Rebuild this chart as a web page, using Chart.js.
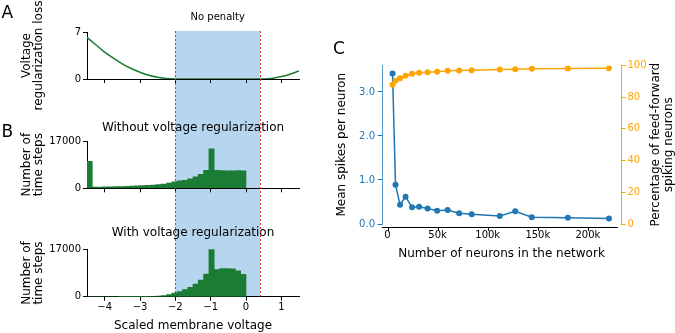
<!DOCTYPE html>
<html lang="en">
<head>
<meta charset="UTF-8">
<title>Voltage regularization</title>
<script src="https://cdn.jsdelivr.net/npm/chart.js"></script>
<style>
  body { margin: 0; background: #fff; }
  #fig { position: relative; width: 675px; height: 333px; }
  #fig canvas { position: absolute; left: 0; top: 0; }
</style>
</head>
<body>
<div id="fig">
  <canvas id="histWith" width="675" height="333"></canvas>
  <canvas id="histWithout" width="675" height="333"></canvas>
  <canvas id="loss" width="675" height="333"></canvas>
  <canvas id="scaling" width="675" height="333"></canvas>
</div>
<script>
// ---- data ----
const noPenaltyRange = [-2, 0.4];
const voltageTicks = [-4, -3, -2, -1, 0, 1];
const lossTicks = [0, 7];
const countTicks = [0, 17000];
const sizeTicks = [0, 50000, 100000, 150000, 200000];
const spikeTicks = [0, 1, 2, 3];
const pctTicks = [0, 20, 40, 60, 80, 100];

// A: regularization loss vs scaled voltage
const lossVoltage = [-4.5, -4.25, -4, -3.75, -3.5, -3.25, -3, -2.75, -2.5, -2.25, -2, 0.4, 0.6, 0.8, 1.0, 1.2, 1.5];
const lossValue   = [6.2, 5.1, 4.0, 3.1, 2.25, 1.55, 1.0, 0.56, 0.25, 0.06, 0, 0, 0.04, 0.16, 0.36, 0.64, 1.2];

// B: histogram bins (width 0.15)
const binCenters = [-4.425, -4.275, -4.125, -3.975, -3.825, -3.675, -3.525, -3.375, -3.225, -3.075,
                    -2.925, -2.775, -2.625, -2.475, -2.325, -2.175, -2.025, -1.875, -1.725, -1.575,
                    -1.425, -1.275, -1.125, -0.975, -0.825, -0.675, -0.525, -0.375, -0.225, -0.075];
const countsWithout = [9700, 450, 480, 520, 560, 610, 660, 720, 790, 870,
                       960, 1060, 1180, 1320, 1550, 1900, 2300, 2650, 2900, 3400,
                       4100, 5000, 6500, 14200, 6500, 6400, 6300, 6300, 6400, 6300];
const countsWith = [0, 0, 0, 0, 0, 0, 5, 10, 15, 25,
                    40, 70, 120, 220, 420, 800, 1300, 1900, 2550, 3350,
                    4550, 6000, 8100, 17000, 9700, 10100, 10100, 10000, 9300, 8000];

// C: scaling with network size
const networkSize = [5000, 8000, 12500, 18000, 24500, 31500, 40000, 49500, 60000, 71500, 84000, 112000, 127500, 144000, 180000, 221000];
const meanSpikes  = [3.42, 0.89, 0.44, 0.62, 0.38, 0.39, 0.35, 0.30, 0.32, 0.245, 0.22, 0.18, 0.29, 0.155, 0.14, 0.125];
const pctSpiking  = [87.8, 90.3, 92.0, 93.5, 94.8, 95.4, 95.8, 96.0, 96.7, 96.8, 97.0, 97.5, 97.7, 97.9, 98.1, 98.3];

// ---- style ----
const GREEN = '#1b7c34';
const SPAN_COLOR = '#b6d6ef';
const BLUE = '#1f77b4';
const ORANGE = '#ffa500';
const FONT = "'DejaVu Sans', sans-serif";
const LEFT_AXIS_W = 87;     // y axis box width of the left column
const RIGHT_PAD = 376;      // space right of the left column
const SPAN_TOP = 31;

Chart.defaults.font.family = FONT;
Chart.defaults.font.size = 10;
Chart.defaults.color = '#000';
Chart.defaults.animation = false;
Chart.defaults.responsive = false;
Chart.defaults.plugins.legend.display = false;
Chart.defaults.plugins.tooltip.enabled = false;

const pts = (xs, ys) => xs.map((x, i) => ({ x: x, y: ys[i] }));
const minus = v => v < 0 ? '\u2212' + Math.abs(v) : String(v);
const fixTicks = values => s => { s.ticks = values.map(v => ({ value: v })); };

function countAxis(max, tickValues, lines) {
    return {
        min: 0, max: max,
        afterFit: s => { s.width = LEFT_AXIS_W; },
        afterBuildTicks: fixTicks(tickValues),
        ticks: { padding: 2, callback: v => String(v) },
        grid: { drawOnChartArea: false, tickLength: 4, color: '#000' },
        border: { color: '#000' },
        title: { display: true, text: lines, font: { size: 12, lineHeight: 1 }, padding: { top: 21, bottom: 0 } }
    };
}

function voltageAxis(labels, height) {
    return {
        type: 'linear', min: -4.5, max: 1.5, offset: false,
        afterFit: s => { s.height = height; },
        afterBuildTicks: fixTicks(voltageTicks),
        ticks: { padding: 1, maxRotation: 0, autoSkip: false,
                 callback: v => labels ? minus(v) : '' },
        grid: { drawOnChartArea: false, tickLength: 4, color: '#000', offset: false },
        border: { color: '#000' },
        title: { display: labels, text: 'Scaled membrane voltage', font: { size: 12 }, padding: 0 }
    };
}

function histOptions(title, titleTop, titleGap, xHeight, padBottom, labels) {
    return {
        layout: { padding: { left: 0, right: RIGHT_PAD, top: titleTop, bottom: padBottom } },
        plugins: {
            title: { display: true, text: title, fullSize: false, color: '#000',
                     font: { size: 12, weight: 'normal', lineHeight: 1.2 },
                     padding: { top: 0, bottom: titleGap } }
        },
        scales: {
            x: voltageAxis(labels, xHeight),
            y: countAxis(17000, countTicks, ['Number of', 'time steps'])
        }
    };
}

// shaded "no penalty" band, behind everything (bottom canvas)
const spanPlugin = {
    id: 'span',
    beforeDraw(chart) {
        const ctx = chart.ctx, x = chart.scales.x;
        const l = x.getPixelForValue(noPenaltyRange[0]);
        const r = x.getPixelForValue(noPenaltyRange[1]);
        ctx.save();
        ctx.fillStyle = SPAN_COLOR;
        ctx.fillRect(l, SPAN_TOP, r - l, chart.chartArea.bottom - SPAN_TOP);
        ctx.restore();
    }
};

const histWith = new Chart(document.getElementById('histWith'), {
    type: 'bar',
    data: { datasets: [{ data: pts(binCenters, countsWith), backgroundColor: GREEN, borderWidth: 0,
                         barPercentage: 1, categoryPercentage: 1 }] },
    options: histOptions('With voltage regularization', 225.2, 9.7, 36.2, 0, true),
    plugins: [spanPlugin]
});

new Chart(document.getElementById('histWithout'), {
    type: 'bar',
    data: { datasets: [{ data: pts(binCenters, countsWithout), backgroundColor: GREEN, borderWidth: 0,
                         barPercentage: 1, categoryPercentage: 1 }] },
    options: histOptions('Without voltage regularization', 120.2, 6.4, 8, 136.7, false)
});

// dotted bounds + label, on top of the left column
const boundsPlugin = {
    id: 'bounds',
    afterDraw(chart) {
        const ctx = chart.ctx, x = chart.scales.x;
        const bottom = histWith.chartArea.bottom;
        ctx.save();
        ctx.strokeStyle = 'rgba(225,30,30,0.9)';
        ctx.lineWidth = 1;
        ctx.setLineDash([2, 2]);
        noPenaltyRange.forEach(v => {
            const px = Math.round(x.getPixelForValue(v)) + 0.5;
            ctx.beginPath();
            ctx.moveTo(px, SPAN_TOP);
            ctx.lineTo(px, bottom);
            ctx.stroke();
        });
        ctx.setLineDash([]);
        ctx.fillStyle = '#000';
        ctx.font = '10px ' + FONT;
        ctx.textAlign = 'center';
        ctx.textBaseline = 'alphabetic';
        const mid = (x.getPixelForValue(noPenaltyRange[0]) + x.getPixelForValue(noPenaltyRange[1])) / 2;
        ctx.fillText('No penalty', mid, 20.3);
        ctx.restore();
    }
};

new Chart(document.getElementById('loss'), {
    type: 'line',
    data: { datasets: [{ data: pts(lossVoltage, lossValue), borderColor: GREEN, borderWidth: 1.6,
                         pointRadius: 0, cubicInterpolationMode: 'monotone', fill: false }] },
    options: {
        layout: { padding: { left: 0, right: RIGHT_PAD, top: 32, bottom: 246 } },
        scales: {
            x: voltageAxis(false, 8),
            y: countAxis(7, lossTicks, ['Voltage', 'regularization loss'])
        }
    },
    plugins: [boundsPlugin]
});

// panel C: offset bottom spine, right label, panel letters
const panelCPlugin = {
    id: 'panelC',
    afterDraw(chart) {
        const ctx = chart.ctx, x = chart.scales.x, area = chart.chartArea;
        const y0 = area.bottom + 3;
        ctx.save();
        ctx.strokeStyle = '#000';
        ctx.lineWidth = 1;
        ctx.beginPath();
        ctx.moveTo(area.left, y0 + 0.5);
        ctx.lineTo(area.right - 3, y0 + 0.5);
        x.ticks.forEach(t => {
            const px = Math.round(x.getPixelForValue(t.value)) + 0.5;
            ctx.moveTo(px, y0);
            ctx.lineTo(px, y0 + 4);
        });
        ctx.stroke();

        ctx.fillStyle = '#000';
        ctx.font = '12px ' + FONT;
        ctx.textAlign = 'center';
        ctx.textBaseline = 'middle';
        const cy = (area.top + area.bottom) / 2;
        [['Percentage of feed-forward', 655.5], ['spiking neurons', 668.5]].forEach(([txt, cx]) => {
            ctx.save();
            ctx.translate(cx, cy);
            ctx.rotate(-Math.PI / 2);
            ctx.fillText(txt, 0, 0);
            ctx.restore();
        });

        ctx.font = '17px ' + FONT;
        ctx.textAlign = 'left';
        ctx.textBaseline = 'alphabetic';
        ctx.fillText('A', 1.5, 18.3);
        ctx.fillText('B', 1.5, 136.7);
        ctx.fillText('C', 333, 54);
        ctx.restore();
    }
};

new Chart(document.getElementById('scaling'), {
    type: 'line',
    data: {
        datasets: [
            { data: pts(networkSize, pctSpiking), yAxisID: 'y1', borderColor: ORANGE, backgroundColor: ORANGE,
              borderWidth: 1.5, pointRadius: 3, pointBorderWidth: 0, order: 0 },
            { data: pts(networkSize, meanSpikes), yAxisID: 'y', borderColor: BLUE, backgroundColor: BLUE,
              borderWidth: 1.5, pointRadius: 3, pointBorderWidth: 0, order: 1 }
        ]
    },
    options: {
        layout: { padding: { left: 330, right: 0, top: 65.5, bottom: 71.8 } },
        scales: {
            x: {
                type: 'linear', min: -5500, max: 233000,
                afterFit: s => { s.height = 37.2; },
                afterBuildTicks: fixTicks(sizeTicks),
                ticks: { padding: 5.8, maxRotation: 0, autoSkip: false,
                         callback: v => v === 0 ? '0' : (v / 1000) + 'k' },
                grid: { display: false, drawTicks: false },
                border: { display: false },
                title: { display: true, text: 'Number of neurons in the network', font: { size: 12 }, padding: 0 }
            },
            y: {
                position: 'left', min: 0, max: 3.6,
                afterFit: s => { s.width = 52; },
                afterBuildTicks: fixTicks(spikeTicks),
                ticks: { color: BLUE, padding: 2.5, callback: v => v.toFixed(1) },
                grid: { drawOnChartArea: false, tickLength: 4.5, color: BLUE },
                border: { color: 'rgba(31,119,180,0.75)' },
                title: { display: true, text: 'Mean spikes per neuron', font: { size: 12, lineHeight: 1 },
                         padding: { top: 6, bottom: 0 } }
            },
            y1: {
                position: 'right', min: 0, max: 100,
                afterFit: s => { s.width = 54; },
                afterBuildTicks: fixTicks(pctTicks),
                ticks: { color: ORANGE, padding: 2 },
                grid: { drawOnChartArea: false, tickLength: 4.5, color: ORANGE },
                border: { color: ORANGE }
            }
        }
    },
    plugins: [panelCPlugin]
});
</script>
</body>
</html>
